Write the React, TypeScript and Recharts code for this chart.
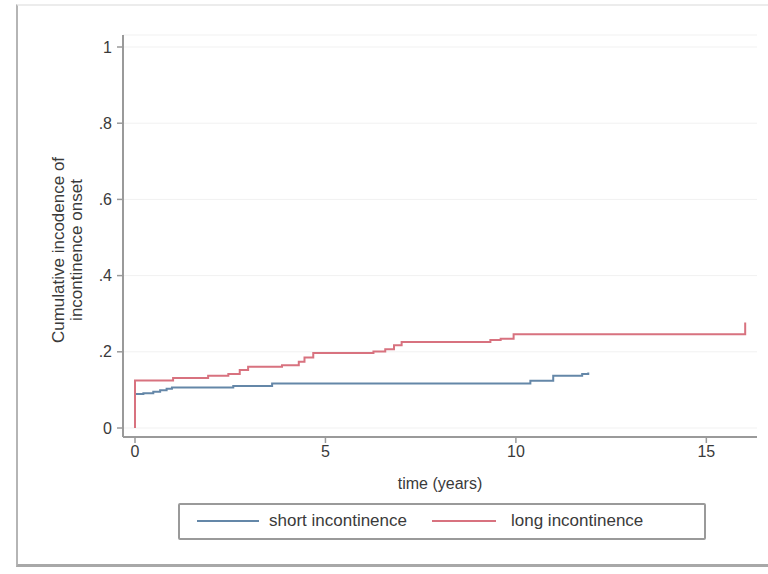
import React from "react";
import { LineChart, Line, XAxis, YAxis, CartesianGrid } from "recharts";

// Short incontinence: step points (time in years, cumulative incidence)
const shortTimes = [0, 0, 0.22, 0.48, 0.66, 0.83, 0.97, 2.58, 3.6, 10.38, 10.98, 11.74, 11.9];
const shortValues = [0, 0.089, 0.091, 0.095, 0.099, 0.103, 0.106, 0.11, 0.117, 0.124, 0.137, 0.142, 0.146];

// Long incontinence
const longTimes = [0, 0, 1.0, 1.92, 2.45, 2.75, 2.97, 3.86, 4.3, 4.45, 4.68, 6.26, 6.57, 6.8, 7.0, 9.33, 9.6, 9.94, 16.02, 16.02];
const longValues = [0, 0.125, 0.131, 0.137, 0.142, 0.152, 0.161, 0.165, 0.174, 0.185, 0.197, 0.201, 0.207, 0.217, 0.226, 0.231, 0.234, 0.246, 0.246, 0.277];

const xTicks = [0, 5, 10, 15];
const yTicks = [0, 0.2, 0.4, 0.6, 0.8, 1];
const yTickLabels = ["0", ".2", ".4", ".6", ".8", "1"];

const seriesNames = ["short incontinence", "long incontinence"];
const yTitleLines = ["Cumulative incodence of", "incontinence onset"];
const xTitle = "time (years)";

const BLUE = "#6487a8";
const RED = "#d8727f";
const TEXT = "#3a3a3a";
const AXIS = "#9a9a9a";

const shortData = shortTimes.map((t, i) => ({ t, v: shortValues[i] }));
const longData = longTimes.map((t, i) => ({ t, v: longValues[i] }));

const fontFamily = "'Liberation Sans', Arial, Helvetica, sans-serif";

const YTitle = () => (
  <text
    transform="translate(67, 250) rotate(-90)"
    textAnchor="middle"
    fontFamily={fontFamily}
    fontSize={17}
    fill={TEXT}
  >
    <tspan x={0} dy={-3}>{yTitleLines[0]}</tspan>
    <tspan x={0} dy={18}>{yTitleLines[1]}</tspan>
  </text>
);

export default function App() {
  return (
    <div style={{ position: "absolute", left: 0, top: 0, width: 768, height: 574, background: "#ffffff", overflow: "hidden" }}>
      {/* outer frame */}
      <div
        style={{
          position: "absolute",
          left: 16,
          top: 4,
          width: 760,
          height: 563,
          borderLeft: "2px solid #b5b5b5",
          borderBottom: "3px solid #a8a8a8",
          borderTop: "2px solid #ececec",
          boxSizing: "border-box",
        }}
      />
      <div style={{ position: "absolute", left: 0, top: 0 }}>
        <LineChart
          width={768}
          height={574}
          margin={{ top: 35, right: 11, bottom: 107, left: 0 }}
        >
          <CartesianGrid horizontal={true} vertical={false} stroke="#f1f1f1" strokeWidth={1} />
          <XAxis
            dataKey="t"
            type="number"
            domain={[-0.315, 16.33]}
            ticks={xTicks}
            allowDataOverflow
            height={30}
            stroke={AXIS}
            strokeWidth={2}
            tickSize={6}
            tickMargin={3}
            tick={{ fill: TEXT, fontSize: 16, fontFamily }}
            tickLine={{ stroke: AXIS, strokeWidth: 1.5 }}
            label={{ value: xTitle, position: "insideBottom", offset: -22, fill: TEXT, fontSize: 16, fontFamily }}
          />
          <YAxis
            type="number"
            domain={[-0.0236, 1.0315]}
            ticks={yTicks}
            allowDataOverflow
            width={123}
            stroke={AXIS}
            strokeWidth={2}
            tickSize={6}
            tickMargin={5}
            tickFormatter={(v: number) => yTickLabels[yTicks.indexOf(v)] ?? String(v)}
            tick={{ fill: TEXT, fontSize: 16, fontFamily }}
            tickLine={{ stroke: AXIS, strokeWidth: 1.5 }}
            label={{ content: () => <YTitle /> }}
          />
          <Line
            data={shortData}
            dataKey="v"
            type="stepAfter"
            stroke={BLUE}
            strokeWidth={2}
            dot={false}
            isAnimationActive={false}
            name={seriesNames[0]}
          />
          <Line
            data={longData}
            dataKey="v"
            type="stepAfter"
            stroke={RED}
            strokeWidth={2}
            dot={false}
            isAnimationActive={false}
            name={seriesNames[1]}
          />
        </LineChart>
      </div>
      {/* legend */}
      <div
        style={{
          position: "absolute",
          left: 178,
          top: 503,
          width: 528,
          height: 37,
          border: "2px solid #9a9a9a",
          borderRadius: 2,
          boxSizing: "border-box",
          fontFamily,
          fontSize: 17,
          color: TEXT,
        }}
      >
        <div style={{ position: "absolute", left: 17, top: 15, width: 62, height: 2, background: BLUE }} />
        <div style={{ position: "absolute", left: 89, top: 6, whiteSpace: "nowrap" }}>{seriesNames[0]}</div>
        <div style={{ position: "absolute", left: 252, top: 15, width: 64, height: 2, background: RED }} />
        <div style={{ position: "absolute", left: 331, top: 6, whiteSpace: "nowrap" }}>{seriesNames[1]}</div>
      </div>
    </div>
  );
}
